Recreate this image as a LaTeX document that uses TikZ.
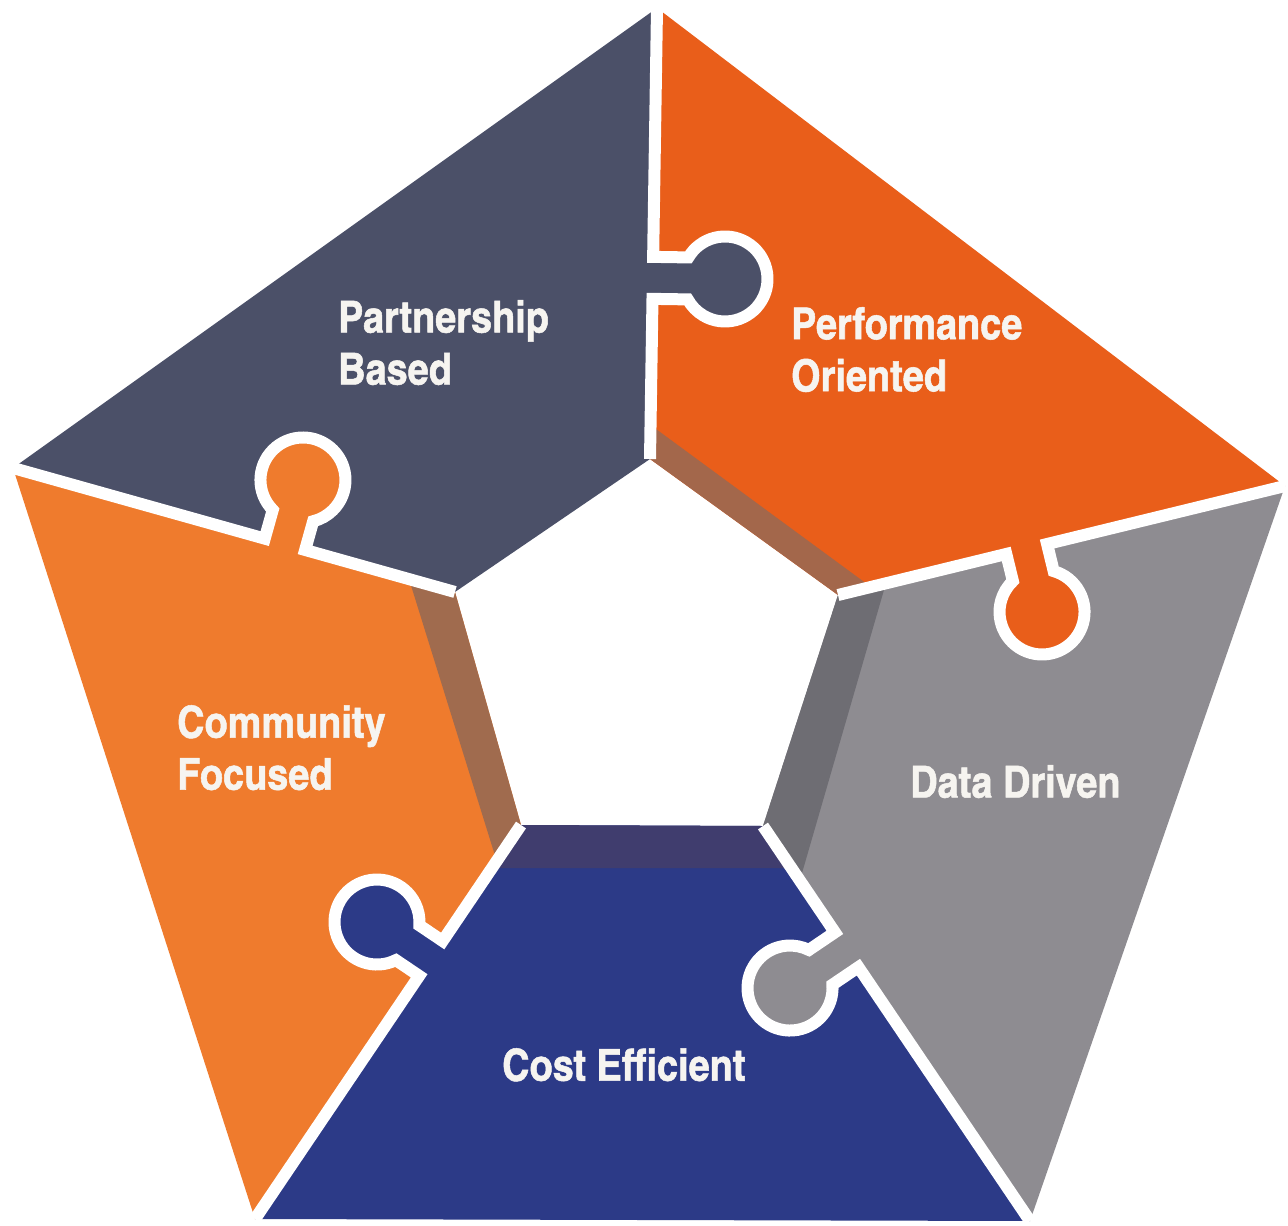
\documentclass[tikz,border=0pt]{standalone}
\usepackage{fontspec}
\newfontfamily\lab{texgyreheroscn-bold.otf}[FakeBold=1.2,FakeStretch=1.05]
\usetikzlibrary{calc}
\definecolor{cPart}{HTML}{4B5068}
\definecolor{cPerf}{HTML}{E95E1A}
\definecolor{cComm}{HTML}{EF7B2D}
\definecolor{cData}{HTML}{8E8C91}
\definecolor{cCost}{HTML}{2C3A87}
\definecolor{sPerf}{HTML}{A3674B}
\definecolor{sComm}{HTML}{A06B4E}
\definecolor{sData}{HTML}{6E6D73}
\definecolor{sCost}{HTML}{403D6E}
\definecolor{txt}{HTML}{F6F4F0}
\def\kH{21}
\def\kR{42.5}
\def\kA{29.6}
\def\kS{36.95}
\def\kD{-300.8}
% #1 name, #2 #3 outer end, #4 #5 inner end, #6 #7 knob centre (y up)
\newcommand\defknob[7]{%
 \pgfmathsetmacro\kth{atan2((#5)-(#3),(#4)-(#2))}%
 \pgfmathsetmacro\ktx{cos(\kth)}%
 \pgfmathsetmacro\kty{sin(\kth)}%
 \pgfmathsetmacro\kal{((#6)-(#2))*(\ktx)+((#7)-(#3))*(\kty)}%
 \pgfmathsetmacro\kdd{-((#6)-(#2))*(\kty)+((#7)-(#3))*(\ktx)}%
 \pgfmathsetmacro\kBx{(#2)+(\kal)*(\ktx)}%
 \pgfmathsetmacro\kBy{(#3)+(\kal)*(\kty)}%
 \pgfmathsetmacro\kyo{(\kdd)-(\kS)}%
 \coordinate (#1a) at ({\kBx-\kH*(\ktx)},{\kBy-\kH*(\kty)});
 \coordinate (#1b) at ({\kBx-\kH*(\ktx)-(\kyo)*(\kty)},{\kBy-\kH*(\kty)+(\kyo)*(\ktx)});
 \coordinate (#1d) at ({\kBx+\kH*(\ktx)},{\kBy+\kH*(\kty)});
 \coordinate (#1e) at ({\kBx+\kH*(\ktx)+3*(\kty)},{\kBy+\kH*(\kty)-3*(\ktx)});
 \coordinate (#1f) at ({\kBx-\kH*(\ktx)+3*(\kty)},{\kBy-\kH*(\kty)-3*(\ktx)});
 \pgfmathsetmacro\ksa{(\kth)+270-(\kA)}%
 \expandafter\xdef\csname kseg#1\endcsname{-- (#1a) -- (#1b) arc[start angle=\ksa, delta angle=\kD, radius=\kR] -- (#1d)}%
}
\tikzset{
  divider/.style={draw=white, line width=12pt},
  lbl/.style={text=txt, font=\lab\fontsize{44}{52}\selectfont, align=left, inner sep=0pt, anchor=north west}
}
\begin{document}
\begin{tikzpicture}[x=1pt,y=1pt]
\fill[white] (0,0) rectangle (1288,-1226);
\useasboundingbox (0,0) rectangle (1288,-1226);
% outer and inner vertices
\coordinate (OT) at (657,-8);
\coordinate (OR) at (1285,-486);
\coordinate (OBR) at (1030,-1221);
\coordinate (OBL) at (255,-1219);
\coordinate (OL) at (13,-468);
\coordinate (IT) at (650,-459);
\coordinate (IR) at (838,-595);
\coordinate (IBR) at (763,-826);
\coordinate (IBL) at (521,-825);
\coordinate (IL) at (455,-592);
% knobs
\defknob{kpp}{657}{-8}{650}{-459}{725}{-279}
\defknob{kcp}{13}{-468}{455}{-592}{303}{-480}
\defknob{kpd}{1285}{-486}{838}{-595}{1042}{-612}
\defknob{kdc}{1030}{-1221}{763}{-826}{790}{-988}
\defknob{kcc}{255}{-1219}{521}{-825}{377}{-922}
% pieces
\fill[cPart] (OL) -- (OT) -- (IT) -- (IL) -- cycle;
\fill[cPerf] (OT) -- (OR) -- (IR) -- (IT) -- cycle;
\fill[cData] (OR) -- (OBR) -- (IBR) -- (IR) -- cycle;
\fill[cCost] (OBR) -- (OBL) -- (IBL) -- (IBR) -- cycle;
\fill[cComm] (OBL) -- (OL) -- (IL) -- (IBL) -- cycle;
% side faces
\fill[sPerf] (650,-459) -- (650.5,-425) -- (871,-587) -- (838,-595) -- cycle;
\fill[sData] (838,-595) -- (886,-583) -- (800,-880) -- (763,-826) -- cycle;
\fill[sCost] (521,-825) -- (492,-868) -- (792,-868) -- (763,-826) -- cycle;
\fill[sComm] (455,-592) -- (409,-579) -- (497,-862) -- (521,-825) -- cycle;
% knob bodies
\fill[cPart] (kppf) \ksegkpp -- (kppe) -- cycle;
\fill[cComm] (kcpf) \ksegkcp -- (kcpe) -- cycle;
\fill[cPerf] (kpdf) \ksegkpd -- (kpde) -- cycle;
\fill[cData] (kdcf) \ksegkdc -- (kdce) -- cycle;
\fill[cCost] (kccf) \ksegkcc -- (kcce) -- cycle;
% white joints
\draw[divider] (OT) \ksegkpp -- (IT);
\draw[divider] (OL) \ksegkcp -- (IL);
\draw[divider] (OR) \ksegkpd -- (IR);
\draw[divider] (OBR) \ksegkdc -- (IBR);
\draw[divider] (OBL) \ksegkcc -- (IBL);
% labels
\node[lbl] (tpart) at (338,-300) {Partnership\\Based};
\node[lbl] (tperf) at (791,-307) {Performance\\Oriented};
\node[lbl] (tcomm) at (177,-705) {Community\\Focused};
\node[lbl] (tdata) at (910,-765) {Data Driven};
\node[lbl] (tcost) at (502,-1048) {Cost Efficient};
\end{tikzpicture}
\end{document}
